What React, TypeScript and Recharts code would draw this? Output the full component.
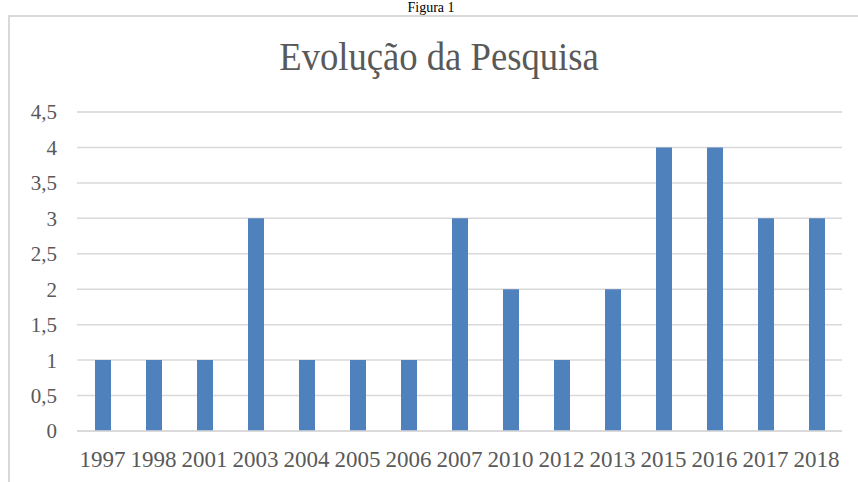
import { Bar, BarChart, CartesianGrid, XAxis, YAxis } from "recharts";

// values
const years = ["1997", "1998", "2001", "2003", "2004", "2005", "2006", "2007", "2010", "2012", "2013", "2015", "2016", "2017", "2018"];
const counts = [1, 1, 1, 3, 1, 1, 1, 3, 2, 1, 2, 4, 4, 3, 3];
const majorTicks = [0, 0.5, 1, 1.5, 2, 2.5, 3, 3.5, 4, 4.5];
const minorTicks = [
  0, 0.1, 0.2, 0.3, 0.4, 0.5, 0.6, 0.7, 0.8, 0.9, 1, 1.1, 1.2, 1.3, 1.4, 1.5, 1.6, 1.7, 1.8, 1.9, 2, 2.1, 2.2,
  2.3, 2.4, 2.5, 2.6, 2.7, 2.8, 2.9, 3, 3.1, 3.2, 3.3, 3.4, 3.5, 3.6, 3.7, 3.8, 3.9, 4, 4.1, 4.2, 4.3, 4.4, 4.5,
];

const data = years.map((year, i) => ({ year, count: counts[i] }));

const serif = "Liberation Serif, Tinos, Times New Roman, Times, DejaVu Serif, serif";
const textGray = "#595959";

export default function App() {
  return (
    <div
      style={{
        position: "absolute",
        left: 0,
        top: 0,
        width: 858,
        height: 482,
        overflow: "hidden",
        background: "#fff",
        fontFamily: serif,
      }}
    >
      <div
        style={{
          position: "absolute",
          left: 8,
          top: 15,
          width: 900,
          height: 520,
          border: "2px solid #D9D9D9",
        }}
      />
      <div
        style={{
          position: "absolute",
          left: 0,
          width: 862,
          top: 0,
          textAlign: "center",
          fontSize: 14,
          lineHeight: "16px",
          color: "#000",
        }}
      >
        Figura 1
      </div>
      <div
        style={{
          position: "absolute",
          left: 0,
          width: 878,
          top: 35,
          textAlign: "center",
          fontSize: 40,
          lineHeight: "44px",
          color: textGray,
          transform: "scaleX(0.916)",
        }}
      >
        Evolução da Pesquisa
      </div>
      <div style={{ position: "absolute", left: 0, top: 0 }}>
        <BarChart
          width={858}
          height={482}
          data={data}
          margin={{ top: 112, right: 16, bottom: 11, left: 7 }}
          barCategoryGap={0}
          style={{ fontFamily: serif }}
        >
          <CartesianGrid yAxisId="minor" vertical={false} stroke="#EFEFEF" strokeWidth={1.5} />
          <CartesianGrid yAxisId="major" vertical={false} stroke="#D9D9D9" strokeWidth={1.5} />
          <XAxis
            dataKey="year"
            interval={0}
            height={40}
            axisLine={{ stroke: "#D9D9D9", strokeWidth: 1.5 }}
            tickLine={false}
            tickMargin={14}
            tick={{ fill: textGray, fontSize: 23, fontFamily: serif }}
          />
          <YAxis
            yAxisId="major"
            domain={[0, 4.5]}
            ticks={majorTicks}
            interval={0}
            width={70}
            axisLine={false}
            tickLine={false}
            tickMargin={14}
            tickFormatter={(v: number) => String(v).replace(".", ",")}
            tick={{ fill: textGray, fontSize: 21, fontFamily: serif }}
          />
          <YAxis yAxisId="minor" domain={[0, 4.5]} ticks={minorTicks} interval={0} hide />
          <Bar yAxisId="major" dataKey="count" fill="#4F81BD" barSize={16} isAnimationActive={false} />
        </BarChart>
      </div>
    </div>
  );
}
